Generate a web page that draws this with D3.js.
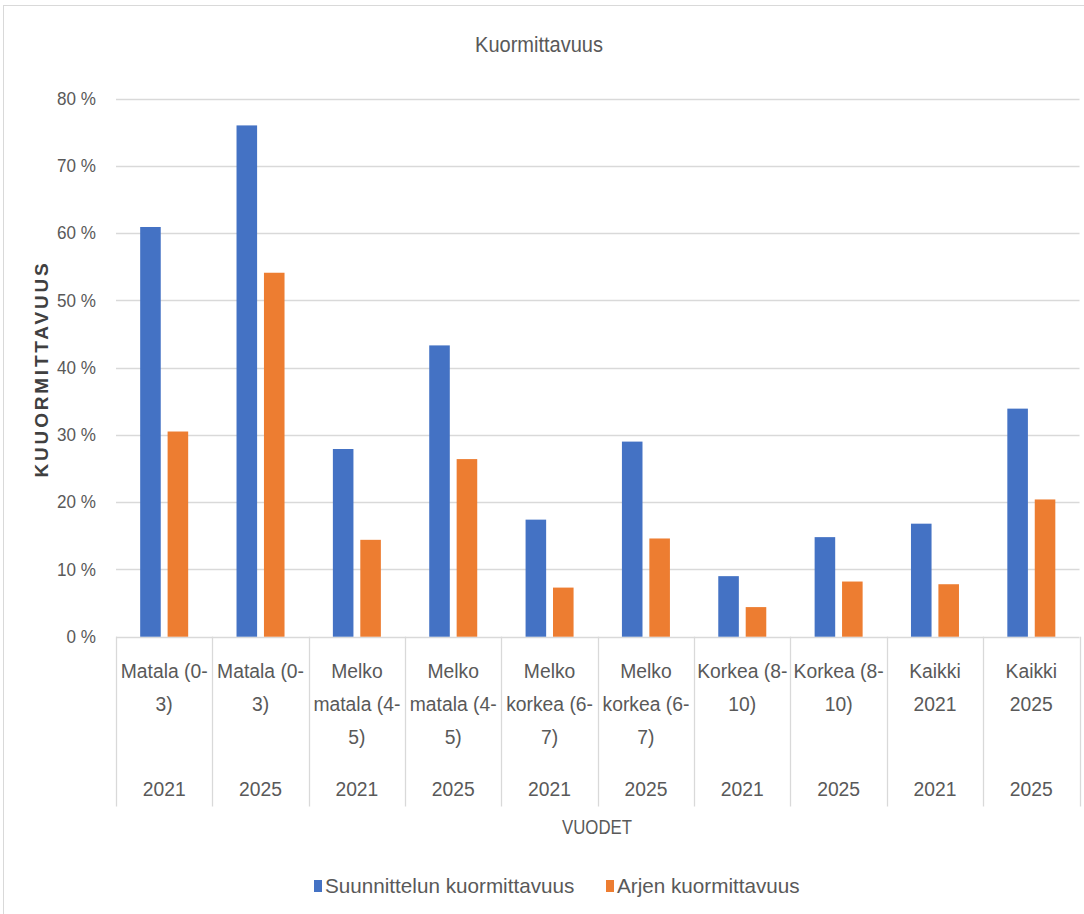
<!DOCTYPE html>
<html>
<head>
<meta charset="utf-8">
<script src="https://cdn.jsdelivr.net/npm/d3@7/dist/d3.min.js"></script>
<style>
  body { margin: 0; background: #fff; }
  svg { display: block; font-family: "Liberation Sans", Arial, sans-serif; }
</style>
</head>
<body>
<svg id="chart" width="1084" height="914"></svg>
<script>
// ---- data ----
const groupLabels = [
  ["Matala (0-", "3)"],
  ["Matala (0-", "3)"],
  ["Melko", "matala (4-", "5)"],
  ["Melko", "matala (4-", "5)"],
  ["Melko", "korkea (6-", "7)"],
  ["Melko", "korkea (6-", "7)"],
  ["Korkea (8-", "10)"],
  ["Korkea (8-", "10)"],
  ["Kaikki", "2021"],
  ["Kaikki", "2025"]
];
const years = ["2021", "2025", "2021", "2025", "2021", "2025", "2021", "2025", "2021", "2025"];
const seriesNames = ["Suunnittelun kuormittavuus", "Arjen kuormittavuus"];
const suunnittelu = [60.9, 76.0, 27.9, 43.3, 17.4, 29.0, 9.0, 14.8, 16.8, 33.9];
const arki = [30.5, 54.1, 14.4, 26.4, 7.3, 14.6, 4.4, 8.2, 7.8, 20.4];
const yTicks = [0, 10, 20, 30, 40, 50, 60, 70, 80];
const colors = ["#4472C4", "#ED7D31"];
const chartTitle = "Kuormittavuus";
const yTitle = "KUUORMITTAVUUS";
const xTitle = "VUODET";

(function () {
// ---- layout ----
const svg = d3.select("#chart");
const pLeft = 116, pRight = 1079.5, pTop = 98.5, pBottom = 636.7;
const textColor = "#595959";
const gridColor = "#d9d9d9";

// helper: text with horizontal condensing
function condText(g, x, y, str, size, sx, anchor) {
  return g.append("text")
    .attr("transform", `translate(${x},${y}) scale(${sx},1)`)
    .attr("dy", "0.35em")
    .attr("text-anchor", anchor || "middle")
    .attr("fill", textColor)
    .attr("font-size", size)
    .text(str);
}

// outer border
svg.append("rect").attr("x", 3.5).attr("y", 5.5).attr("width", 1090).attr("height", 920)
  .attr("fill", "none").attr("stroke", gridColor).attr("stroke-width", 1);

const idx = d3.range(groupLabels.length);
const x = d3.scaleBand().domain(idx).range([pLeft, pRight]).padding(0);
const xs = d3.scaleBand().domain([0, 1]).range([-24, 24]).paddingInner(0.25);
const y = d3.scaleLinear().domain([0, 80]).range([pBottom, pTop]);

// gridlines
svg.append("g").selectAll("line").data(yTicks).join("line")
  .attr("x1", pLeft).attr("x2", pRight)
  .attr("y1", d => Math.round(y(d)) + 0.5).attr("y2", d => Math.round(y(d)) + 0.5)
  .attr("stroke", gridColor).attr("stroke-width", 1.3);

// y tick labels
const yl = svg.append("g");
yTicks.forEach(t => condText(yl, 96, y(t), t + " %", 18, 0.95, "end"));

// bars
const series = [suunnittelu, arki];
series.forEach((vals, s) => {
  svg.append("g").selectAll("rect").data(vals).join("rect")
    .attr("x", (d, i) => x(i) + x.bandwidth() / 2 + xs(s))
    .attr("width", xs.bandwidth())
    .attr("y", d => y(d))
    .attr("height", d => y(0) - y(d))
    .attr("fill", colors[s]);
});

// category dividers
const divs = idx.map(i => x(i)).concat([pRight]);
svg.append("g").selectAll("line").data(divs).join("line")
  .attr("x1", d => Math.round(d) + 0.5).attr("x2", d => Math.round(d) + 0.5)
  .attr("y1", pBottom).attr("y2", 806.5)
  .attr("stroke", gridColor).attr("stroke-width", 1.3);

// category labels
const lab = svg.append("g");
idx.forEach(i => {
  const cx = x(i) + x.bandwidth() / 2;
  groupLabels[i].forEach((ln, k) => condText(lab, cx, 671 + k * 33, ln, 21, 0.92));
  condText(lab, cx, 788.5, years[i], 21, 0.92);
});

// titles
condText(svg, 539, 44, chartTitle, 22, 0.91);

svg.append("text").attr("transform", "translate(41,369) rotate(-90)").attr("dy", "0.35em")
  .attr("text-anchor", "middle").attr("fill", "#404040").attr("font-weight", "bold")
  .attr("font-size", 19).attr("letter-spacing", 2.8).text(yTitle);

condText(svg, 597, 827, xTitle, 20, 0.84);

// legend
const legX = [314, 606];
const leg = svg.append("g");
seriesNames.forEach((n, s) => {
  leg.append("rect").attr("x", legX[s]).attr("y", 880).attr("width", 8).attr("height", 12).attr("fill", colors[s]);
  condText(leg, legX[s] + 11, 886, n, 21, 0.985, "start");
});
})();
</script>
</body>
</html>
